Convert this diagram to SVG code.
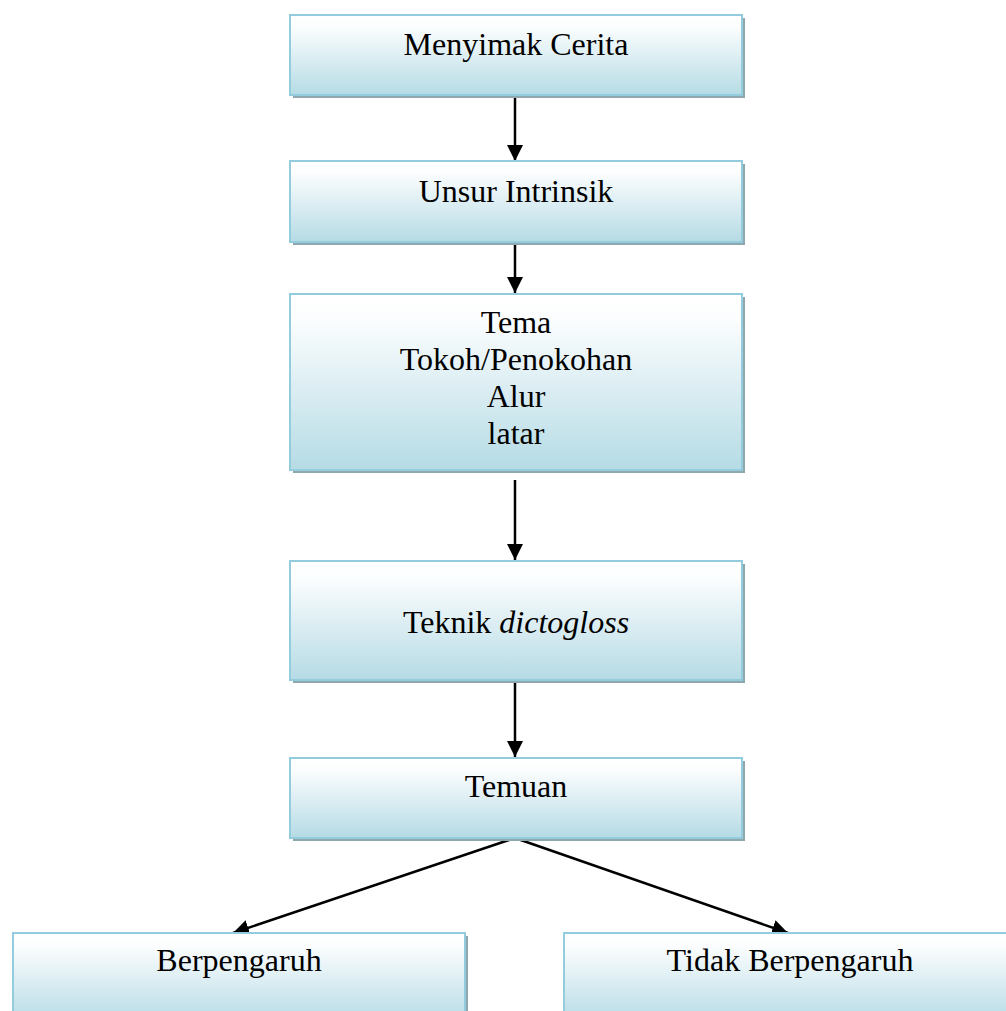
<svg xmlns="http://www.w3.org/2000/svg" width="1006" height="1011" viewBox="0 0 1006 1011">
<defs>
<linearGradient id="g" x1="0" y1="0" x2="0" y2="1">
<stop offset="0" stop-color="#ffffff"/>
<stop offset="0.15" stop-color="#fbfdfe"/>
<stop offset="1" stop-color="#b5dbe5"/>
</linearGradient>
<marker id="ah" markerWidth="16" markerHeight="16" viewBox="0 0 16 16" refX="16" refY="8" orient="auto" markerUnits="userSpaceOnUse">
<path d="M0,0 L16,8 L0,16 Z" fill="#000"/>
</marker>
<style>
.sh{fill:#8fa8b0}
.bx{fill:url(#g);stroke:#93cddd;stroke-width:2}
.t{font-family:"Liberation Serif","Times New Roman",serif;font-size:32px;fill:#000;text-anchor:middle}
.c{stroke:#000;stroke-width:2.5;fill:none;marker-end:url(#ah)}
</style>
</defs>
<g id="connectors">
<line class="c" x1="515" y1="96" x2="515" y2="161"/>
<line class="c" x1="515" y1="244" x2="515" y2="293"/>
<line class="c" x1="515" y1="480" x2="515" y2="560"/>
<line class="c" x1="515" y1="681" x2="515" y2="757"/>
<line class="c" x1="515" y1="838" x2="233" y2="933"/>
<line class="c" x1="515" y1="838" x2="788" y2="933"/>
</g>
<g id="n1">
<rect class="sh" x="293" y="18" width="452" height="80"/>
<rect class="bx" x="290" y="15" width="452" height="80"/>
<text class="t" x="516" y="55">Menyimak Cerita</text>
</g>
<g id="n2">
<rect class="sh" x="293" y="164" width="452" height="81"/>
<rect class="bx" x="290" y="161" width="452" height="81"/>
<text class="t" x="516" y="202">Unsur Intrinsik</text>
</g>
<g id="n3">
<rect class="sh" x="293" y="297" width="452" height="176"/>
<rect class="bx" x="290" y="294" width="452" height="176"/>
<text class="t" x="516" y="333">Tema</text>
<text class="t" x="516" y="370">Tokoh/Penokohan</text>
<text class="t" x="516" y="407">Alur</text>
<text class="t" x="516" y="444">latar</text>
</g>
<g id="n4">
<rect class="sh" x="293" y="564" width="452" height="119"/>
<rect class="bx" x="290" y="561" width="452" height="119"/>
<text class="t" x="516" y="633">Teknik <tspan font-style="italic">dictogloss</tspan></text>
</g>
<g id="n5">
<rect class="sh" x="293" y="761" width="452" height="80"/>
<rect class="bx" x="290" y="758" width="452" height="80"/>
<text class="t" x="516" y="797">Temuan</text>
</g>
<g id="n6">
<rect class="sh" x="16" y="936" width="452" height="90"/>
<rect class="bx" x="13" y="933" width="452" height="90"/>
<text class="t" x="239" y="971">Berpengaruh</text>
</g>
<g id="n7">
<rect class="sh" x="567" y="936" width="452" height="90"/>
<rect class="bx" x="564" y="933" width="452" height="90"/>
<text class="t" x="790" y="971">Tidak Berpengaruh</text>
</g>
</svg>
